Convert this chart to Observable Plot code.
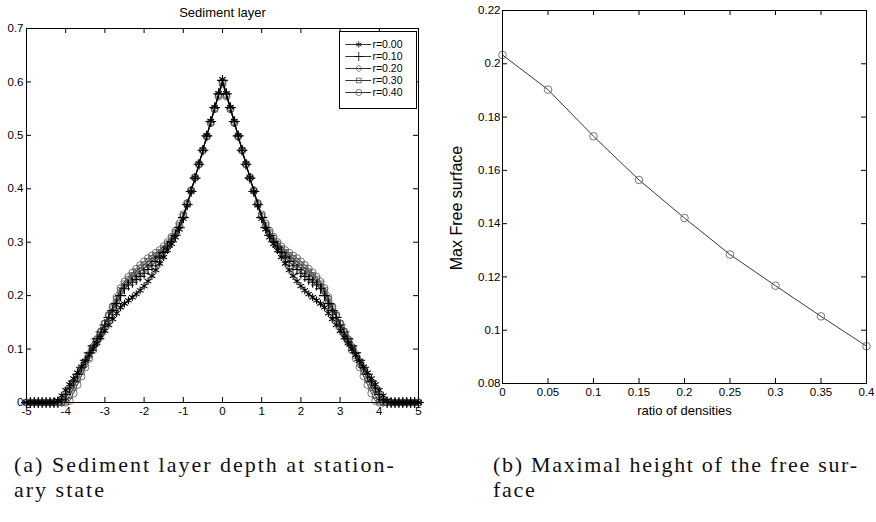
<!DOCTYPE html>
<html><head><meta charset="utf-8">
<script src="https://cdn.jsdelivr.net/npm/d3@7"></script>
<script src="https://cdn.jsdelivr.net/npm/@observablehq/plot@0.6"></script>
<style>
body{margin:0;background:#fff;width:876px;height:522px;position:relative;overflow:hidden;font-family:"Liberation Sans",Arial,sans-serif;}
#left{position:absolute;left:0;top:0;}
#legend{position:absolute;left:339px;top:31px;border:1px solid #000;background:#fff;width:76px;height:76px;}
#right{position:absolute;left:440px;top:0;}
.cap{position:absolute;font-family:"Liberation Serif",serif;font-size:22px;line-height:25px;color:#111;letter-spacing:2px;white-space:nowrap;}
</style></head><body>
<div id="left"></div><div id="legend"></div><div id="right"></div>
<div class="cap" style="left:14px;top:452px">(a) Sediment layer depth at station-<br>ary state</div>
<div class="cap" style="left:493px;top:452px;letter-spacing:1.7px">(b) Maximal height of the free sur-<br>face</div>
<script>
// ---------- data: left chart (sediment layer profiles, x = -5 .. 5 step 0.1) ----------
const xGrid = d3.range(-50, 51).map(i => i / 10);
const seriesLabels = ["r=0.00", "r=0.10", "r=0.20", "r=0.30", "r=0.40"];
const r000 = [0,0,0,0,0,0,0,0,
 0.004,0.013,0.023,0.034,0.045,0.056,0.067,0.078,0.089,0.100,0.111,0.122,0.134,0.145,0.156,0.167,0.178,0.185,0.191,0.197,0.203,0.210,0.218,0.227,0.237,0.248,0.260,0.272,0.285,0.297,0.309,0.324,0.344,0.369,0.395,0.421,0.447,0.473,0.500,0.527,0.553,0.579,
 0.605,
 0.579,0.553,0.527,0.500,0.473,0.447,0.421,0.395,0.369,0.344,0.324,0.309,0.297,0.285,0.272,0.260,0.248,0.237,0.227,0.218,0.210,0.203,0.197,0.191,0.185,0.178,0.167,0.156,0.145,0.134,0.122,0.111,0.100,0.089,0.078,0.067,0.056,0.045,0.034,0.023,0.013,0.004,
 0,0,0,0,0,0,0,0];
const r010 = [0,0,0,0,0,0,0,0,0,
 0.005,0.015,0.027,0.040,0.053,0.066,0.079,0.093,0.106,0.119,0.132,0.145,0.159,0.172,0.185,0.200,0.213,0.220,0.225,0.230,0.236,0.242,0.249,0.256,0.264,0.272,0.281,0.291,0.301,0.313,0.327,0.346,0.370,0.395,0.420,0.446,0.472,0.499,0.526,0.552,0.578,
 0.603,
 0.578,0.552,0.526,0.499,0.472,0.446,0.420,0.395,0.370,0.346,0.327,0.313,0.301,0.291,0.281,0.272,0.264,0.256,0.249,0.242,0.236,0.230,0.225,0.220,0.213,0.200,0.185,0.172,0.159,0.145,0.132,0.119,0.106,0.093,0.079,0.066,0.053,0.040,0.027,0.015,0.005,
 0,0,0,0,0,0,0,0,0];
const r020 = [0,0,0,0,0,0,0,0,0,0,
 0.009,0.022,0.036,0.050,0.064,0.078,0.092,0.106,0.120,0.134,0.148,0.162,0.176,0.190,0.207,0.219,0.227,0.234,0.240,0.246,0.252,0.258,0.264,0.270,0.277,0.285,0.294,0.304,0.316,0.330,0.348,0.371,0.396,0.421,0.446,0.472,0.499,0.525,0.551,0.576,
 0.601,
 0.576,0.551,0.525,0.499,0.472,0.446,0.421,0.396,0.371,0.348,0.330,0.316,0.304,0.294,0.285,0.277,0.270,0.264,0.258,0.252,0.246,0.240,0.234,0.227,0.219,0.207,0.190,0.176,0.162,0.148,0.134,0.120,0.106,0.092,0.078,0.064,0.050,0.036,0.022,0.009,
 0,0,0,0,0,0,0,0,0,0];
const r030 = [0,0,0,0,0,0,0,0,0,0,
 0.002,0.013,0.028,0.043,0.058,0.073,0.088,0.103,0.118,0.133,0.148,0.163,0.178,0.193,0.210,0.222,0.231,0.238,0.245,0.252,0.258,0.264,0.270,0.275,0.281,0.288,0.297,0.307,0.318,0.332,0.350,0.372,0.396,0.421,0.446,0.472,0.498,0.524,0.550,0.575,
 0.599,
 0.575,0.550,0.524,0.498,0.472,0.446,0.421,0.396,0.372,0.350,0.332,0.318,0.307,0.297,0.288,0.281,0.275,0.270,0.264,0.258,0.252,0.245,0.238,0.231,0.222,0.210,0.193,0.178,0.163,0.148,0.133,0.118,0.103,0.088,0.073,0.058,0.043,0.028,0.013,0.002,
 0,0,0,0,0,0,0,0,0,0];
const r040 = [0,0,0,0,0,0,0,0,0,0,0,
 0.003,0.017,0.033,0.049,0.066,0.082,0.098,0.115,0.131,0.148,0.164,0.180,0.197,0.214,0.226,0.235,0.243,0.250,0.257,0.264,0.270,0.275,0.280,0.285,0.292,0.300,0.310,0.321,0.335,0.352,0.373,0.397,0.421,0.446,0.472,0.498,0.523,0.549,0.573,
 0.597,
 0.573,0.549,0.523,0.498,0.472,0.446,0.421,0.397,0.373,0.352,0.335,0.321,0.310,0.300,0.292,0.285,0.280,0.275,0.270,0.264,0.257,0.250,0.243,0.235,0.226,0.214,0.197,0.180,0.164,0.148,0.131,0.115,0.098,0.082,0.066,0.049,0.033,0.017,0.003,
 0,0,0,0,0,0,0,0,0,0,0];
const leftXTicks = [-5,-4,-3,-2,-1,0,1,2,3,4,5];
const leftYTicks = [0,0.1,0.2,0.3,0.4,0.5,0.6,0.7];

// ---------- data: right chart ----------
const ratio = [0,0.05,0.1,0.15,0.2,0.25,0.3,0.35,0.4];
const maxFree = [0.2033,0.1903,0.1728,0.1564,0.1421,0.1284,0.1167,0.1052,0.0940];
const rightXTicks = [0,0.05,0.1,0.15,0.2,0.25,0.3,0.35,0.4];
const rightYTicks = [0.08,0.1,0.12,0.14,0.16,0.18,0.2,0.22];

const allSeries = [r000, r010, r020, r030, r040];
allSeries.forEach((s, i) => { if (s.length !== xGrid.length) throw new Error("length mismatch " + i + ": " + s.length); });

const styles = [
  {symbol: "asterisk", stroke: "#000", sw: 1.1},
  {symbol: "plus", stroke: "#000", sw: 1.1},
  {symbol: "diamond2", stroke: "#555", sw: 0.8},
  {symbol: "square2", stroke: "#555", sw: 0.8},
  {symbol: "circle", stroke: "#555", sw: 0.8}
];
const tables = allSeries.map(s => xGrid.map((x, i) => ({x, y: s[i]})));

function inwardTicks(xt, yt, xd, yd, len) {
  return [
    Plot.ruleX(xt, {x: d => d, y1: yd[0], y2: yd[0], insetBottom: len, stroke: "#000"}),
    Plot.ruleX(xt, {x: d => d, y1: yd[1], y2: yd[1], insetTop: len, stroke: "#000"}),
    Plot.ruleY(yt, {y: d => d, x1: xd[0], x2: xd[0], insetLeft: len, stroke: "#000"}),
    Plot.ruleY(yt, {y: d => d, x1: xd[1], x2: xd[1], insetRight: len, stroke: "#000"})
  ];
}
const fmt = d => String(+d.toFixed(4));

const order = [4, 3, 2, 1, 0];
const seriesMarks = order.flatMap(k => [
  Plot.line(tables[k], {x: "x", y: "y", stroke: "#000", strokeWidth: 0.7}),
  Plot.dot(tables[k], {x: "x", y: "y", symbol: styles[k].symbol, r: 3.6, fill: "none", stroke: styles[k].stroke, strokeWidth: styles[k].sw})
]);

const left = Plot.plot({
  width: 438, height: 425,
  marginLeft: 26, marginRight: 20, marginTop: 28, marginBottom: 23,
  style: {fontFamily: "'Liberation Sans', Arial, sans-serif", fontSize: "11px", color: "#000", background: "#fff"},
  x: {domain: [-5, 5]},
  y: {domain: [0, 0.7]},
  marks: [
    ...seriesMarks,
    Plot.frame({stroke: "#000", strokeWidth: 1}),
    ...inwardTicks(leftXTicks, leftYTicks, [-5, 5], [0, 0.7], 5),
    Plot.axisX(leftXTicks, {tickSize: 0, tickPadding: 4, tickFormat: fmt, fontSize: 11.5, label: null}),
    Plot.axisY(leftYTicks, {tickSize: 0, tickPadding: 3, tickFormat: fmt, fontSize: 11.5, label: null}),
    Plot.text(["Sediment layer"], {frameAnchor: "top", lineAnchor: "middle", dy: -16, fontSize: 13})
  ]
});
document.getElementById("left").append(left);

// legend
const legend = Plot.plot({
  width: 76, height: 76,
  marginLeft: 0, marginRight: 0, marginTop: 11, marginBottom: 16,
  style: {fontFamily: "'Liberation Sans', Arial, sans-serif", fontSize: "11px", background: "transparent"},
  x: {domain: [0, 1], axis: null},
  y: {type: "point", domain: seriesLabels, axis: null, padding: 0},
  marks: [
    Plot.ruleY(seriesLabels, {y: d => d, x1: 0.07, x2: 0.41, stroke: "#000", strokeWidth: 0.8}),
    ...seriesLabels.map((lab, k) => Plot.dot([lab], {x: 0.24, y: d => d, symbol: styles[k].symbol, r: 3, fill: "none", stroke: styles[k].stroke, strokeWidth: 0.8})),
    Plot.text(seriesLabels, {x: 0.42, y: d => d, text: d => d, textAnchor: "start", fontSize: 10.5})
  ]
});
document.getElementById("legend").append(legend);

// right chart
const rightData = ratio.map((x, i) => ({x, y: maxFree[i]}));
const right = Plot.plot({
  width: 436, height: 420,
  marginLeft: 62, marginRight: 10, marginTop: 10, marginBottom: 37,
  style: {fontFamily: "'Liberation Sans', Arial, sans-serif", fontSize: "11px", color: "#000", background: "#fff"},
  x: {domain: [0, 0.4]},
  y: {domain: [0.08, 0.22]},
  marks: [
    Plot.line(rightData, {x: "x", y: "y", stroke: "#222", strokeWidth: 0.9}),
    Plot.dot(rightData, {x: "x", y: "y", r: 3.8, fill: "none", stroke: "#555", strokeWidth: 0.8}),
    Plot.frame({stroke: "#000", strokeWidth: 1}),
    ...inwardTicks(rightXTicks, rightYTicks, [0, 0.4], [0.08, 0.22], 5),
    Plot.axisX(rightXTicks, {tickSize: 0, tickPadding: 4, tickFormat: fmt, fontSize: 11.5, label: null}),
    Plot.axisY(rightYTicks, {tickSize: 0, tickPadding: 2, tickFormat: fmt, fontSize: 11.5, label: null}),
    Plot.text(["ratio of densities"], {frameAnchor: "bottom", lineAnchor: "middle", dy: 27, fontSize: 13}),
    Plot.text(["Max Free surface"], {frameAnchor: "left", textAnchor: "middle", lineAnchor: "middle", dx: -46, dy: 11, rotate: -90, fontSize: 16})
  ]
});
document.getElementById("right").append(right);
</script>
</body></html>
